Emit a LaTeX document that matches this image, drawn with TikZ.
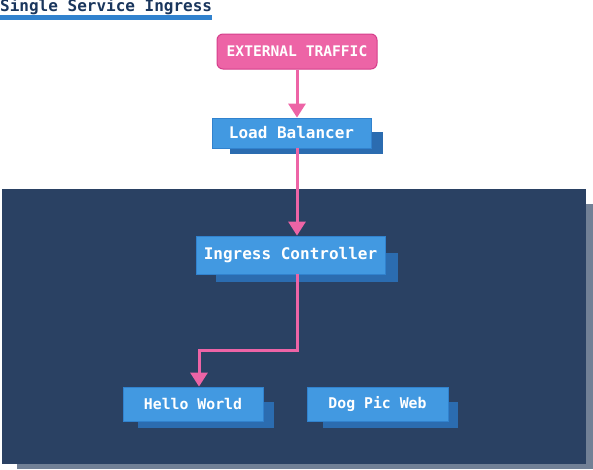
\documentclass[tikz,border=0pt]{standalone}
\usepackage{fontspec}
\setmonofont{DejaVu Sans Mono}
\usetikzlibrary{arrows.meta}
\definecolor{navy}{HTML}{2A4163}
\definecolor{boxblue}{HTML}{4299E1}
\definecolor{boxedge}{HTML}{3182CE}
\definecolor{shadowblue}{HTML}{2B6CB0}
\definecolor{pinkfill}{HTML}{ED64A6}
\definecolor{pinkedge}{HTML}{D53F8C}
\definecolor{grayshadow}{HTML}{718096}
\definecolor{titlecol}{HTML}{1A365D}
\definecolor{underline}{HTML}{3182CE}
\tikzset{
  box/.style={draw=boxedge, line width=0.8pt, fill=boxblue, text=white, inner sep=0pt,
    font=\ttfamily\bfseries\fontsize{16}{18}\selectfont},
  smallbox/.style={box, font=\ttfamily\bfseries\fontsize{14.8}{17}\selectfont},
  shadowbox/.style={fill=shadowblue, draw=none, inner sep=0pt},
  ext/.style={draw=pinkedge, line width=1pt, fill=pinkfill, text=white, rounded corners=6pt,
    inner sep=0pt, font=\ttfamily\bfseries\fontsize{14.6}{17}\selectfont},
  flow/.style={draw=pinkfill, line width=3pt, -{Triangle[width=17pt,length=14pt]}}
}
\begin{document}
\begin{tikzpicture}[x=1pt,y=-1pt]
\useasboundingbox[fill=white] (0,0) rectangle (593,469);
% cluster
\fill[grayshadow] (17,204) rectangle (593,469);
\fill[navy] (2,189) rectangle (586,464);
% title
\node[anchor=base west, inner sep=0pt, text=titlecol, font=\ttfamily\bfseries\fontsize{16}{18}\selectfont] (title) at (0,11) {Single Service Ingress};
\fill[underline] (0,15) rectangle (212,19.5);
% shadows
\node[shadowbox, minimum width=153pt, minimum height=22pt] (lbS) at (306.5,143) {};
\node[shadowbox, minimum width=182pt, minimum height=29pt] (ingS) at (307,267.5) {};
\node[shadowbox, minimum width=136pt, minimum height=26pt] (helloS) at (206,415) {};
\node[shadowbox, minimum width=135pt, minimum height=26pt] (dogS) at (390.5,415) {};
% nodes
\node[ext, minimum width=160pt, minimum height=35pt] (ext) at (297,51.5) {EXTERNAL TRAFFIC};
\node[box, minimum width=159pt, minimum height=30pt] (lb) at (291.5,133) {Load Balancer};
\node[box, minimum width=189pt, minimum height=38pt] (ing) at (290.5,255) {Ingress Controller};
\node[smallbox, minimum width=140pt, minimum height=34pt] (hello) at (193,404) {Hello World};
\node[smallbox, minimum width=141pt, minimum height=34pt] (dog) at (377.5,404) {Dog Pic Web};
% connectors
\coordinate (hw) at ([xshift=6pt]hello.north);
\draw[flow] (ext.south) -- (ext.south |- lb.north);
\draw[flow] (ext.south |- lb.south) -- (ext.south |- ing.north);
\draw[flow, rounded corners=0pt] (ext.south |- ing.south) -- (ext.south |- 0,350) -| (hw);
\end{tikzpicture}
\end{document}
